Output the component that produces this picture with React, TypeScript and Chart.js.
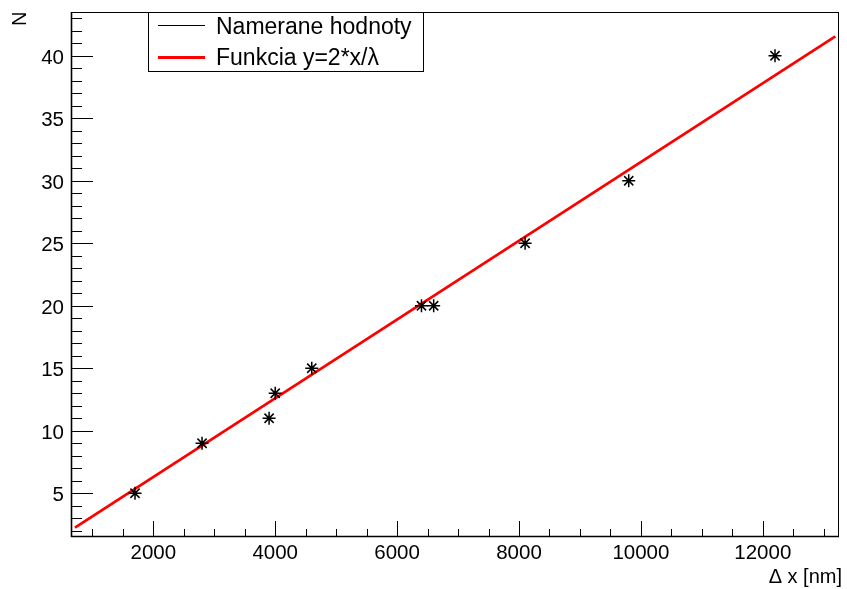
import React, { useEffect, useRef } from 'react';
import { Chart, registerables } from 'chart.js';

Chart.register(...registerables);

// ---- data ----
const measuredX = [1700, 2800, 3900, 4000, 4600, 6400, 6600, 8100, 9800, 12200];
const measuredN = [5, 9, 11, 13, 15, 20, 20, 25, 30, 40];
const fitX = [715, 13190];
const fitY = [2.25, 41.55];
const xTickLabels = [2000, 4000, 6000, 8000, 10000, 12000];
const yTickLabels = [5, 10, 15, 20, 25, 30, 35, 40];
const seriesNames = ['Namerane hodnoty', 'Funkcia y=2*x/λ'];
const xTitle = 'Δ x [nm]';
const yTitle = 'N';

const X_MIN = 650;
const X_MAX = 13250;
const Y_MIN = 1.5;
const Y_MAX = 43.5;
const X_MINOR_STEP = 500;
const Y_MINOR_STEP = 1;

const FONT = "'Liberation Sans', Arial, Helvetica, sans-serif";

const rootStylePlugin = {
  id: 'rootStyle',
  afterDraw(chart: any) {
    const { ctx, chartArea: a, scales } = chart;
    const x = scales.x;
    const y = scales.y;
    ctx.save();
    ctx.strokeStyle = '#000';
    ctx.fillStyle = '#000';

    const seg = (x1: number, y1: number, x2: number, y2: number) => {
      ctx.beginPath();
      ctx.moveTo(x1, y1);
      ctx.lineTo(x2, y2);
      ctx.stroke();
    };

    // frame
    ctx.lineWidth = 1;
    ctx.strokeRect(a.left + 0.5, a.top + 0.5, a.right - a.left - 1, a.bottom - a.top - 1);
    ctx.lineWidth = 1.6;
    seg(a.left, a.bottom - 0.5, a.right, a.bottom - 0.5);
    seg(a.left + 0.5, a.top, a.left + 0.5, a.bottom);

    // x ticks (inside)
    ctx.lineWidth = 1;
    const xStart = Math.ceil(X_MIN / X_MINOR_STEP) * X_MINOR_STEP;
    for (let v = xStart; v <= X_MAX; v += X_MINOR_STEP) {
      const px = Math.round(x.getPixelForValue(v)) + 0.5;
      const major = xTickLabels.includes(v);
      seg(px, a.bottom, px, a.bottom - (major ? 16 : 8));
    }
    // y ticks (inside)
    const yStart = Math.ceil(Y_MIN / Y_MINOR_STEP) * Y_MINOR_STEP;
    for (let v = yStart; v <= Y_MAX; v += Y_MINOR_STEP) {
      const py = Math.round(y.getPixelForValue(v)) + 0.5;
      const major = yTickLabels.includes(v);
      seg(a.left, py, a.left + (major ? 22 : 11), py);
    }

    // legend box
    const lx = 148.5, ly = 12.5, lw = 275, lh = 59;
    ctx.fillStyle = '#fff';
    ctx.fillRect(lx, ly, lw, lh);
    ctx.strokeStyle = '#000';
    ctx.lineWidth = 1;
    ctx.strokeRect(lx, ly, lw, lh);

    ctx.lineWidth = 1;
    ctx.strokeStyle = '#000';
    seg(158, 25.5, 205, 25.5);
    ctx.lineWidth = 3;
    ctx.strokeStyle = '#ff0000';
    seg(158, 57.5, 205, 57.5);

    ctx.fillStyle = '#000';
    ctx.font = `23px ${FONT}`;
    ctx.textAlign = 'left';
    ctx.textBaseline = 'alphabetic';
    ctx.fillText(seriesNames[0], 216, 34);
    ctx.fillText(seriesNames[1], 216, 64.5);

    // axis titles
    ctx.font = `20px ${FONT}`;
    ctx.textAlign = 'right';
    ctx.fillText(xTitle, 842, 583);

    ctx.save();
    ctx.translate(26, 11.5);
    ctx.rotate(-Math.PI / 2);
    ctx.textAlign = 'right';
    ctx.textBaseline = 'alphabetic';
    ctx.fillText(yTitle, 0, 0);
    ctx.restore();

    ctx.restore();
  },
};

export default function App() {
  const canvasRef = useRef<HTMLCanvasElement | null>(null);

  useEffect(() => {
    if (!canvasRef.current) return;
    const chart = new Chart(canvasRef.current, {
      type: 'scatter',
      data: {
        datasets: [
          {
            label: seriesNames[0],
            data: measuredX.map((v, i) => ({ x: v, y: measuredN[i] })),
            pointStyle: 'star',
            pointRadius: 6.5,
            pointBorderWidth: 1.5,
            borderColor: '#000',
            backgroundColor: '#000',
            showLine: false,
            order: 0,
          },
          {
            label: seriesNames[1],
            data: fitX.map((v, i) => ({ x: v, y: fitY[i] })),
            showLine: true,
            borderColor: '#ff0000',
            borderWidth: 2.8,
            pointRadius: 0,
            fill: false,
            order: 1,
          },
        ],
      },
      options: {
        animation: false,
        responsive: false,
        devicePixelRatio: 1,
        layout: { padding: { top: 12, right: 5, left: 0, bottom: 0 } },
        plugins: {
          legend: { display: false },
          tooltip: { enabled: false },
        },
        scales: {
          x: {
            type: 'linear',
            min: X_MIN,
            max: X_MAX,
            grid: { display: false, drawTicks: false },
            border: { display: false },
            afterBuildTicks: (s: any) => {
              s.ticks = xTickLabels.map((v) => ({ value: v }));
            },
            afterFit: (s: any) => {
              s.height = 52;
              s.paddingLeft = 0;
              s.paddingRight = 0;
            },
            ticks: {
              callback: (v: any) => String(v),
              color: '#000',
              font: { family: FONT, size: 20.5 },
              padding: 4,
              maxRotation: 0,
              autoSkip: false,
            },
          },
          y: {
            type: 'linear',
            min: Y_MIN,
            max: Y_MAX,
            grid: { display: false, drawTicks: false },
            border: { display: false },
            afterBuildTicks: (s: any) => {
              s.ticks = yTickLabels.map((v) => ({ value: v }));
            },
            afterFit: (s: any) => {
              s.width = 71;
              s.paddingTop = 0;
              s.paddingBottom = 0;
            },
            ticks: {
              callback: (v: any) => String(v),
              color: '#000',
              font: { family: FONT, size: 20.5 },
              padding: 7,
              labelOffset: 2.5,
              autoSkip: false,
            },
          },
        },
      },
      plugins: [rootStylePlugin],
    });
    return () => chart.destroy();
  }, []);

  return (
    <div style={{ position: 'absolute', left: 0, top: 0, width: 847, height: 589, background: '#fff' }}>
      <canvas ref={canvasRef} width={847} height={589} style={{ display: 'block', width: 847, height: 589 }} />
    </div>
  );
}
